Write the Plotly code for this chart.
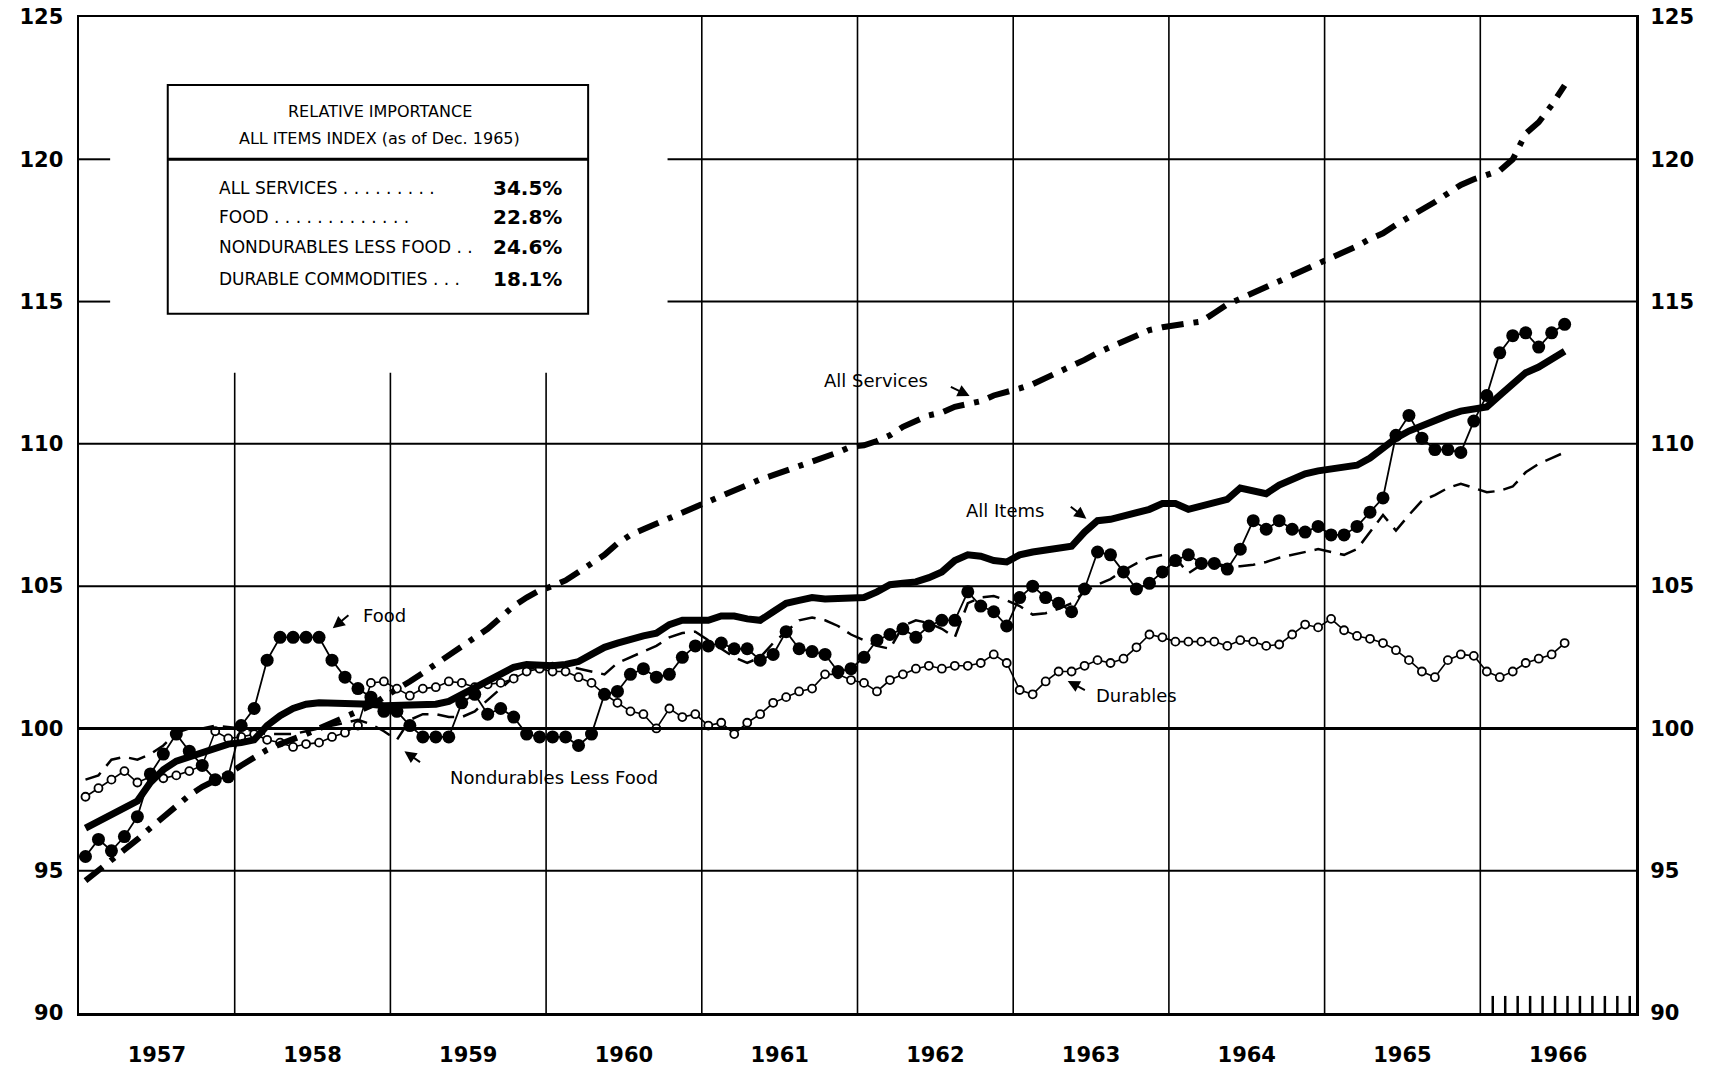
import plotly.graph_objects as go

# ---------------- data (monthly, Jan 1957 - Jul 1966; 1957-59 = 100) ----------------
years = list(range(1957, 1967))
y_ticks = [90, 95, 100, 105, 110, 115, 120, 125]

all_items = [
    96.5, 96.75, 97.0, 97.2, 97.45, 98.1, 98.55, 98.85, 99.0, 99.15, 99.3, 99.45,
    99.5, 99.6, 100.1, 100.45, 100.7, 100.85, 100.9, 100.9, 100.9, 100.9, 100.85, 100.8,
    100.8, 100.8, 100.8, 100.85, 100.95, 101.2, 101.45, 101.7, 101.95, 102.15, 102.25, 102.2,
    102.2, 102.25, 102.35, 102.6, 102.85, 103.0, 103.15, 103.25, 103.35, 103.65, 103.8, 103.8,
    103.8, 103.95, 103.95, 103.85, 103.8, 104.1, 104.4, 104.5, 104.6, 104.55, 104.55, 104.55,
    104.6, 104.8, 105.05, 105.1, 105.15, 105.3, 105.5, 105.9, 106.1, 106.05, 105.9, 105.85,
    106.1, 106.2, 106.25, 106.3, 106.4, 106.9, 107.3, 107.35, 107.45, 107.55, 107.7, 107.9,
    107.9, 107.7, 107.8, 107.95, 108.05, 108.45, 108.35, 108.25, 108.55, 108.75, 108.95, 109.05,
    109.1, 109.15, 109.25, 109.5, 109.85, 110.2, 110.45, 110.65, 110.85, 111.0, 111.15, 111.2,
    111.3, 111.7, 112.1, 112.5, 112.7, 112.95, 113.25,
]

services = [
    94.65, 95.0, 95.4, 95.75, 96.1, 96.5, 96.9, 97.3, 97.65, 97.95, 98.15, 98.4,
    98.7, 99.0, 99.25, 99.45, 99.6, 99.8, 100.0, 100.2, 100.4, 100.6, 100.8, 101.1,
    101.35, 101.65, 101.95, 102.25, 102.55, 102.85, 103.15, 103.5, 103.9, 104.3, 104.6, 104.85,
    105.0, 105.2, 105.5, 105.8, 106.1, 106.5, 106.8, 107.0, 107.2, 107.4, 107.6, 107.8,
    107.95, 108.15, 108.35, 108.55, 108.75, 108.9, 109.05, 109.2, 109.35, 109.55, 109.7, 109.9,
    109.95, 110.1, 110.3, 110.6, 110.8, 111.0, 111.1, 111.3, 111.4, 111.5, 111.7, 111.8,
    111.95, 112.1, 112.3, 112.5, 112.7, 112.95, 113.2, 113.4, 113.6, 113.8, 114.0, 114.1,
    114.15, 114.2, 114.3, 114.6, 114.9, 115.1, 115.3, 115.5, 115.7, 115.9, 116.1, 116.3,
    116.5, 116.7, 116.95, 117.2, 117.4, 117.7, 117.95, 118.2, 118.5, 118.8, 119.1, 119.3,
    119.45, 119.6, 120.0, 120.9, 121.3, 121.9, 122.6,
]

food = [
    95.5, 96.1, 95.7, 96.2, 96.9, 98.4, 99.1, 99.8, 99.2, 98.7, 98.2, 98.3,
    100.1, 100.7, 102.4, 103.2, 103.2, 103.2, 103.2, 102.4, 101.8, 101.4, 101.1, 100.6,
    100.6, 100.1, 99.7, 99.7, 99.7, 100.9, 101.2, 100.5, 100.7, 100.4, 99.8, 99.7,
    99.7, 99.7, 99.4, 99.8, 101.2, 101.3, 101.9, 102.1, 101.8, 101.9, 102.5, 102.9,
    102.9, 103.0, 102.8, 102.8, 102.4, 102.6, 103.4, 102.8, 102.7, 102.6, 102.0, 102.1,
    102.5, 103.1, 103.3, 103.5, 103.2, 103.6, 103.8, 103.8, 104.8, 104.3, 104.1, 103.6,
    104.6, 105.0, 104.6, 104.4, 104.1, 104.9, 106.2, 106.1, 105.5, 104.9, 105.1, 105.5,
    105.9, 106.1, 105.8, 105.8, 105.6, 106.3, 107.3, 107.0, 107.3, 107.0, 106.9, 107.1,
    106.8, 106.8, 107.1, 107.6, 108.1, 110.3, 111.0, 110.2, 109.8, 109.8, 109.7, 110.8,
    111.7, 113.2, 113.8, 113.9, 113.4, 113.9, 114.2,
]

nondurables = [
    98.2, 98.35, 98.9, 99.0, 98.9, 99.1, 99.4, 99.85, 100.0, 100.0, 100.1, 100.05,
    100.0, 99.9, 99.8, 99.8, 99.8, 99.9, 100.0, 100.1, 100.2, 100.3, 100.15, 99.9,
    99.6, 100.3, 100.5, 100.5, 100.4, 100.4, 100.6, 101.0, 101.4, 101.8, 102.05, 102.2,
    102.3, 102.2, 102.1, 102.0, 101.9, 102.3, 102.5, 102.7, 102.9, 103.2, 103.35, 103.4,
    103.1, 102.8, 102.5, 102.3, 102.5, 103.0, 103.4, 103.8, 103.9, 103.8, 103.6, 103.3,
    103.1, 102.9, 102.8, 103.6, 103.8, 103.7, 103.5, 103.2, 104.4, 104.6, 104.65, 104.5,
    104.3, 104.0, 104.05, 104.2, 104.4, 104.8, 105.05, 105.25, 105.55, 105.8, 106.0, 106.1,
    106.0, 105.45, 105.75, 105.8, 105.7, 105.7, 105.75, 105.85, 106.0, 106.1, 106.2, 106.3,
    106.2, 106.1, 106.3, 106.9, 107.5, 106.95, 107.5, 108.0, 108.2, 108.45, 108.6, 108.45,
    108.3, 108.35, 108.5, 109.0, 109.3, 109.5, 109.7,
]

durables = [
    97.6, 97.9, 98.2, 98.5, 98.1, 98.3, 98.25, 98.35, 98.5, 98.7, 99.9, 99.65,
    99.7, 99.8, 99.6, 99.5, 99.35, 99.45, 99.5, 99.7, 99.85, 100.1, 101.6, 101.65,
    101.4, 101.15, 101.4, 101.45, 101.65, 101.6, 101.45, 101.55, 101.6, 101.75, 102.0, 102.1,
    102.0, 102.0, 101.8, 101.6, 101.2, 100.9, 100.6, 100.5, 100.0, 100.7, 100.4, 100.5,
    100.1, 100.2, 99.8, 100.2, 100.5, 100.9, 101.1, 101.3, 101.4, 101.9, 101.9, 101.7,
    101.6, 101.3, 101.7, 101.9, 102.1, 102.2, 102.1, 102.2, 102.2, 102.3, 102.6, 102.3,
    101.35, 101.2, 101.65, 102.0, 102.0, 102.2, 102.4, 102.3, 102.45, 102.85, 103.3, 103.2,
    103.05, 103.05, 103.05, 103.05, 102.9, 103.1, 103.05, 102.9, 102.95, 103.3, 103.65, 103.55,
    103.85, 103.45, 103.25, 103.15, 103.0, 102.75, 102.4, 102.0, 101.8, 102.4, 102.6, 102.55,
    102.0, 101.8, 102.0, 102.3, 102.45, 102.6, 103.0,
]

weights_labels = ["ALL SERVICES", "FOOD", "NONDURABLES LESS FOOD", "DURABLE COMMODITIES"]
weights_values = ["34.5%", "22.8%", "24.6%", "18.1%"]

# month positions on a continuous year axis (mid-month)
months = [f"{1957 + i // 12}-{i % 12 + 1:02d}" for i in range(len(food))]
x = [int(m[:4]) + (int(m[5:]) - 0.5) / 12 for m in months]

FONT = "DejaVu Sans"
fig = go.Figure()

fig.add_trace(go.Scatter(x=x, y=nondurables, mode="lines", hoverinfo="skip",
                         line=dict(color="black", width=2.5, dash="17px,9px")))
fig.add_trace(go.Scatter(x=x, y=durables, mode="lines+markers", hoverinfo="skip",
                         line=dict(color="black", width=1.6),
                         marker=dict(symbol="circle", size=8, color="white",
                                     line=dict(color="black", width=1.8))))
fig.add_trace(go.Scatter(x=x, y=food, mode="lines+markers", hoverinfo="skip",
                         line=dict(color="black", width=1.8),
                         marker=dict(symbol="circle", size=13, color="black")))
fig.add_trace(go.Scatter(x=x, y=services, mode="lines", hoverinfo="skip",
                         line=dict(color="black", width=6, dash="22px,10px,5px,10px")))
fig.add_trace(go.Scatter(x=x, y=all_items, mode="lines", hoverinfo="skip",
                         line=dict(color="black", width=7)))
# invisible trace so that the right-hand axis is drawn
fig.add_trace(go.Scatter(x=[1957], y=[90], yaxis="y2", mode="markers",
                         marker=dict(opacity=0), hoverinfo="skip"))

shapes = []
LW = 2
# horizontal grid lines
for v in y_ticks[1:-1]:
    if v in (115, 120):
        shapes.append(dict(type="line", xref="x", yref="y", x0=1957, x1=1957.2, y0=v, y1=v,
                           line=dict(color="black", width=LW)))
        shapes.append(dict(type="line", xref="x", yref="y", x0=1960.78, x1=1967, y0=v, y1=v,
                           line=dict(color="black", width=LW)))
    else:
        shapes.append(dict(type="line", xref="x", yref="y", x0=1957, x1=1967, y0=v, y1=v,
                           line=dict(color="black", width=3 if v == 100 else LW)))
# vertical grid lines at year boundaries
for yr in years[1:]:
    top = 112.5 if yr <= 1960 else 125
    shapes.append(dict(type="line", xref="x", yref="y", x0=yr, x1=yr, y0=90, y1=top,
                       line=dict(color="black", width=1.6)))
# small tick marks along the 1966 segment of the base line
for k in range(1, 13):
    shapes.append(dict(type="line", xref="x", yref="y", x0=1966 + k * 0.08, x1=1966 + k * 0.08,
                       y0=90, y1=90.6, line=dict(color="black", width=2.5)))
# weights box
shapes.append(dict(type="rect", xref="x", yref="y", x0=1957.57, x1=1960.27, y0=114.57, y1=122.61,
                   fillcolor="white", line=dict(color="black", width=2), layer="above"))
shapes.append(dict(type="line", xref="x", yref="y", x0=1957.57, x1=1960.27, y0=120.0, y1=120.0,
                   line=dict(color="black", width=3), layer="above"))

ann = []
ann.append(dict(x=1958.93, y=121.69, text="RELATIVE IMPORTANCE", showarrow=False,
                font=dict(family=FONT, size=16, color="black"), xanchor="center", yanchor="middle"))
ann.append(dict(x=1958.93, y=120.73, text="ALL ITEMS INDEX (as of Dec. 1965)", showarrow=False,
                font=dict(family=FONT, size=16, color="black"), xanchor="center", yanchor="middle"))
row_y = [118.99, 117.96, 116.92, 115.8]
dots = [" . . . . . . . . .", " . . . . . . . . . . . . .", " . .", " . . ."]
for lab, val, yy, d in zip(weights_labels, weights_values, row_y, dots):
    ann.append(dict(x=1957.886, y=yy, text=lab + d, showarrow=False, xanchor="left", yanchor="middle",
                    font=dict(family=FONT, size=17, color="black")))
    ann.append(dict(x=1960.115, y=yy, text=val, showarrow=False, xanchor="right",
                    yanchor="middle", font=dict(family=FONT, size=20, color="black", weight="bold")))

# series call-outs
callouts = [
    ("All Services", 1962.12, 112.22, (1962.59, 112.03), (1962.72, 111.68)),
    ("All Items", 1962.95, 107.67, (1963.36, 107.83), (1963.47, 107.37)),
    ("Food", 1958.96, 103.98, (1958.74, 104.02), (1958.63, 103.52)),
    ("Durables", 1963.79, 101.17, (1963.47, 101.32), (1963.35, 101.67)),
    ("Nondurables Less Food", 1960.05, 98.28, (1959.2, 98.78), (1959.09, 99.2)),
]
for txt, tx, ty, tail, head in callouts:
    ann.append(dict(x=tx, y=ty, text=txt, showarrow=False, xanchor="center", yanchor="middle",
                    font=dict(family=FONT, size=18, color="black")))
    ann.append(dict(x=head[0], y=head[1], ax=tail[0], ay=tail[1], axref="x", ayref="y",
                    text="", showarrow=True, arrowhead=2, arrowsize=1.2, arrowwidth=2,
                    arrowcolor="black"))

tickfont = dict(family=FONT, size=21, color="black", weight="bold")
fig.update_layout(
    width=1717, height=1068,
    margin=dict(l=79, r=81, t=17, b=55, autoexpand=False),
    paper_bgcolor="white", plot_bgcolor="white",
    showlegend=False, hovermode=False,
    shapes=shapes, annotations=ann,
    xaxis=dict(range=[1957, 1967], showgrid=False, zeroline=False, automargin=False,
               showline=True, mirror=True, linecolor="black", linewidth=2.5,
               tickvals=[yr + 0.5 for yr in years], ticktext=[str(yr) for yr in years],
               ticks="outside", ticklen=21, tickcolor="rgba(0,0,0,0)", tickfont=tickfont,
               ticklabeloverflow="allow"),
    yaxis=dict(range=[90, 125], showgrid=False, zeroline=False, automargin=False,
               showline=True, mirror=True, linecolor="black", linewidth=2.5,
               tickvals=y_ticks, ticktext=[str(v) for v in y_ticks],
               ticks="outside", ticklen=9, tickcolor="rgba(0,0,0,0)", tickfont=tickfont,
               ticklabeloverflow="allow"),
    yaxis2=dict(range=[90, 125], overlaying="y", side="right", showgrid=False, zeroline=False,
                automargin=False, showline=False, tickvals=y_ticks,
                ticktext=[str(v) for v in y_ticks],
                ticks="outside", ticklen=9, tickcolor="rgba(0,0,0,0)", tickfont=tickfont,
                ticklabeloverflow="allow"),
)

# remove the page's default 8px body margin so the figure fills the window exactly
fig.write_html("out.html", config={"displayModeBar": False, "staticPlot": True},
               post_script="document.body.style.margin='0';")
